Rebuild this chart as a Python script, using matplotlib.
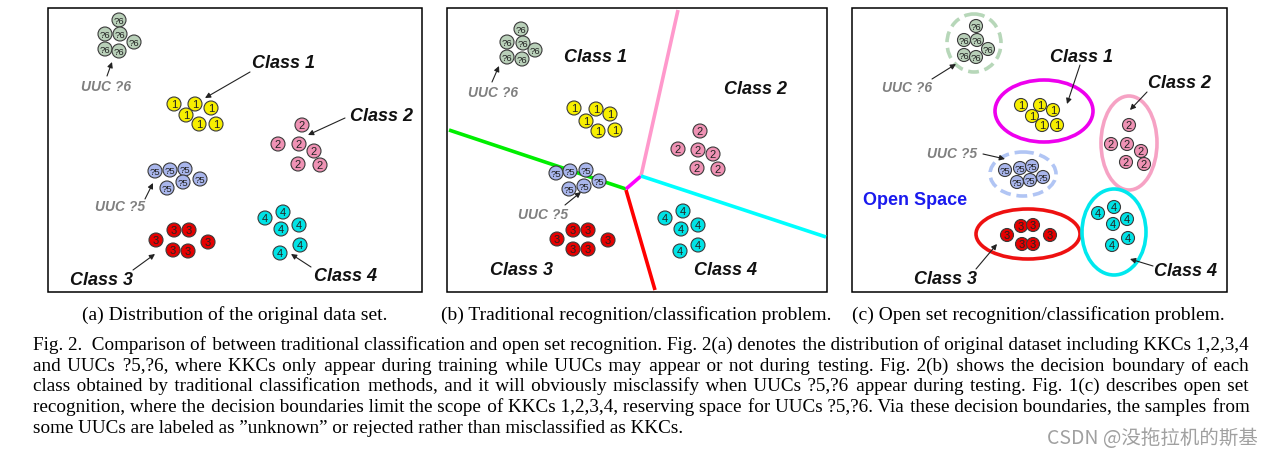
import matplotlib
matplotlib.use('Agg')
import matplotlib.pyplot as plt
from matplotlib.patches import Circle, Ellipse, Rectangle

# sample positions (pixel coords) for each cluster in each panel
labels = ['?6', '1', '2', '?5', '3', '4']
fills = {'?6': '#b9d0b9', '1': '#f7ef00', '2': '#ef92b4', '?5': '#a9b6ec', '3': '#e60000', '4': '#00e3e6'}

pts_a = {
    '?6': [(119, 21), (105, 35), (120, 35), (134, 43), (105, 50), (119, 52)],
    '1': [(174, 105), (195, 105), (211, 109), (186, 116), (199, 125), (216, 125)],
    '2': [(302, 126), (278, 145), (299, 145), (314, 152), (298, 165), (320, 166)],
    '?5': [(155, 172), (170, 171), (185, 170), (200, 180), (167, 189), (183, 183)],
    '3': [(156, 241), (174, 231), (189, 231), (208, 243), (173, 251), (188, 252)],
    '4': [(265, 219), (283, 213), (281, 230), (299, 226), (300, 246), (280, 254)],
}
pts_b = {
    '?6': [(521, 30), (507, 43), (523, 44), (535, 51), (507, 58), (522, 60)],
    '1': [(574, 109), (596, 110), (610, 115), (586, 122), (598, 132), (615, 131)],
    '2': [(700, 132), (678, 150), (698, 151), (713, 155), (697, 169), (718, 170)],
    '?5': [(556, 174), (570, 172), (586, 171), (599, 182), (569, 190), (584, 187)],
    '3': [(557, 240), (573, 231), (588, 231), (608, 241), (573, 250), (588, 250)],
    '4': [(665, 219), (683, 212), (681, 230), (698, 226), (698, 246), (680, 252)],
}
pts_c = {
    '?6': [(976, 27), (964, 41), (977, 41), (988, 50), (964, 56), (976, 58)],
    '1': [(1021, 106), (1040, 106), (1053, 111), (1032, 117), (1042, 126), (1057, 126)],
    '2': [(1129, 126), (1111, 145), (1127, 145), (1141, 152), (1126, 163), (1144, 165)],
    '?5': [(1005, 171), (1020, 169), (1032, 167), (1043, 178), (1017, 183), (1030, 181)],
    '3': [(1007, 236), (1021, 227), (1033, 226), (1050, 236), (1022, 245), (1033, 245)],
    '4': [(1098, 214), (1114, 208), (1113, 225), (1127, 220), (1128, 239), (1112, 246)],
}

# label text, label position, arrow start, arrow end
notes_a = [
    ('Class 1', (283, 63), (250, 73), (205, 99)),
    ('Class 2', (381, 117), (345, 119), (308, 136)),
    ('Class 3', (101, 281), (133, 271), (155, 255)),
    ('Class 4', (346, 277), (311, 268), (291, 255)),
    ('UUC ?6', (106, 87), (107, 77), (112, 63)),
    ('UUC ?5', (120, 207), (145, 200), (153, 184)),
]
notes_b = [
    ('Class 1', (596, 57), None, None),
    ('Class 2', (756, 90), None, None),
    ('Class 3', (521, 271), None, None),
    ('Class 4', (726, 271), None, None),
    ('UUC ?6', (493, 93), (492, 83), (499, 67)),
    ('UUC ?5', (543, 215), (565, 206), (581, 193)),
]
notes_c = [
    ('Class 1', (1082, 57), (1080, 66), (1067, 105)),
    ('Class 2', (1180, 83), (1147, 93), (1130, 111)),
    ('Class 3', (945, 280), (976, 270), (997, 245)),
    ('Class 4', (1185, 272), (1153, 267), (1130, 260)),
    ('UUC ?6', (907, 88), (932, 80), (956, 65)),
    ('UUC ?5', (952, 154), (983, 155), (1005, 160)),
]

# decision boundaries in panel (b): x list, y list, colour
bound_x = [[449, 626], [626, 641], [641, 678], [641, 826], [626, 655]]
bound_y = [[131, 190], [190, 177], [177, 11], [177, 238], [191, 291]]
bound_c = ['#00ee00', '#ff00ff', '#ff99cc', '#00ffff', '#ff0000']

# boundaries in panel (c): center, width, height, colour, dashed
ell_xy = [(974, 44), (1044, 112), (1129, 144), (1023, 175), (1028, 235), (1114, 233)]
ell_w = [54, 98, 56, 66, 104, 64]
ell_h = [58, 62, 94, 44, 50, 86]
ell_c = ['#b7d7b9', '#ee00ee', '#f6a2c4', '#b1c5f4', '#ee1111', '#00e8ee']
ell_dash = [True, False, False, True, False, False]

boxes = [(48, 9, 422, 293), (447, 9, 827, 293), (852, 9, 1227, 293)]
subcaps = ['(a) Distribution of the original data set.',
           '(b) Traditional recognition/classification problem.',
           '(c) Open set recognition/classification problem.']
subcap_x = [235, 636, 1038]

caption = [
    'Fig. 2.  Comparison of between traditional classification and open set recognition. Fig. 2(a) denotes the distribution of original dataset including KKCs 1,2,3,4',
    'and UUCs ?5,?6, where KKCs only appear during training while UUCs may appear or not during testing. Fig. 2(b) shows the decision boundary of each',
    'class obtained by traditional classification methods, and it will obviously misclassify when UUCs ?5,?6 appear during testing. Fig. 1(c) describes open set',
    'recognition, where the decision boundaries limit the scope of KKCs 1,2,3,4, reserving space for UUCs ?5,?6. Via these decision boundaries, the samples from',
    'some UUCs are labeled as \u201dunknown\u201d or rejected rather than misclassified as KKCs.',
]
cap_y = [350, 371, 391, 412, 433]
cap_left, cap_right = 33, 1249
cap_size = 13.75

W, H = 1274, 456
fig = plt.figure(figsize=(W / 100, H / 100), dpi=100)
ax = fig.add_axes([0, 0, 1, 1])
ax.set_xlim(0, W)
ax.set_ylim(H, 0)
ax.axis('off')

sans = 'Liberation Sans'
serif = ['Liberation Serif', 'DejaVu Serif']

for x0, y0, x1, y1 in boxes:
    ax.add_patch(Rectangle((x0, y0), x1 - x0, y1 - y0, fill=False, ec='black', lw=1.1))


def draw_points(pts, r):
    for lab in labels:
        for x, y in pts[lab]:
            ax.add_patch(Circle((x, y), r, fc=fills[lab], ec='#3a3a3a', lw=0.8, zorder=3))
            ax.text(x, y + 0.5, lab, ha='center', va='center', fontsize=6.8 if '?' in lab else 8,
                    family=sans, color='#222222', zorder=4)


def draw_notes(notes):
    for txt, pos, a0, a1 in notes:
        if txt.startswith('UUC'):
            ax.text(pos[0], pos[1], txt, ha='center', va='center', fontsize=10, color='#808080',
                    family=sans, weight='bold', style='italic', zorder=5)
        else:
            ax.text(pos[0], pos[1], txt, ha='center', va='center', fontsize=13, color='#111111',
                    family=sans, weight='bold', style='italic', zorder=5)
        if a0 is not None:
            ax.annotate('', xy=a1, xytext=a0,
                        arrowprops=dict(arrowstyle='-|>', color='#222222', lw=0.8,
                                        mutation_scale=8, shrinkA=0, shrinkB=0), zorder=5)


# panel (a)
draw_points(pts_a, 7)
draw_notes(notes_a)

# panel (b)
for xs, ys, c in zip(bound_x, bound_y, bound_c):
    ax.plot(xs, ys, color=c, lw=2.6, solid_capstyle='butt', zorder=2)
draw_points(pts_b, 7)
draw_notes(notes_b)

# panel (c)
for (cx, cy), w, h, c, d in zip(ell_xy, ell_w, ell_h, ell_c, ell_dash):
    ax.add_patch(Ellipse((cx, cy), w, h, fill=False, ec=c, lw=2.6,
                         ls=(0, (3, 1.6)) if d else '-', zorder=2))
draw_points(pts_c, 6.5)
draw_notes(notes_c)
ax.text(915, 201, 'Open Space', ha='center', va='center', fontsize=13, color='#1a1aee',
        family=sans, weight='bold')

# sub captions
for t, x in zip(subcaps, subcap_x):
    ax.text(x, 320, t, ha='center', va='baseline', fontsize=14, family=serif)

# justified caption: one text per line, padded with hair spaces
fig.canvas.draw()
rend = fig.canvas.get_renderer()


def width_of(s):
    t = ax.text(0, 0, s, fontsize=cap_size, family=serif)
    w = t.get_window_extent(rend).width
    t.remove()
    return w


hair = '\u200a'
hair_w = (width_of('x' + hair * 20 + 'x') - width_of('xx')) / 20
for i, (line, y) in enumerate(zip(caption, cap_y)):
    text = line
    if i < len(caption) - 1:
        words = line.split(' ')
        extra = (cap_right - cap_left) - width_of(line)
        per_gap = extra / (len(words) - 1) / hair_w
        parts = [words[0]]
        for k, w in enumerate(words[1:]):
            n = round((k + 1) * per_gap) - round(k * per_gap)
            parts.append(' ' + hair * max(n, 0) + w)
        text = ''.join(parts)
    ax.text(cap_left, y, text, ha='left', va='baseline', fontsize=cap_size, family=serif)

ax.text(1258, 439, 'CSDN @没拖拉机的斯基', ha='right', va='center', fontsize=14,
        color='#a0a0a0', family=['Noto Sans CJK SC', 'DejaVu Sans'])

fig.savefig('out.png', dpi=100)
